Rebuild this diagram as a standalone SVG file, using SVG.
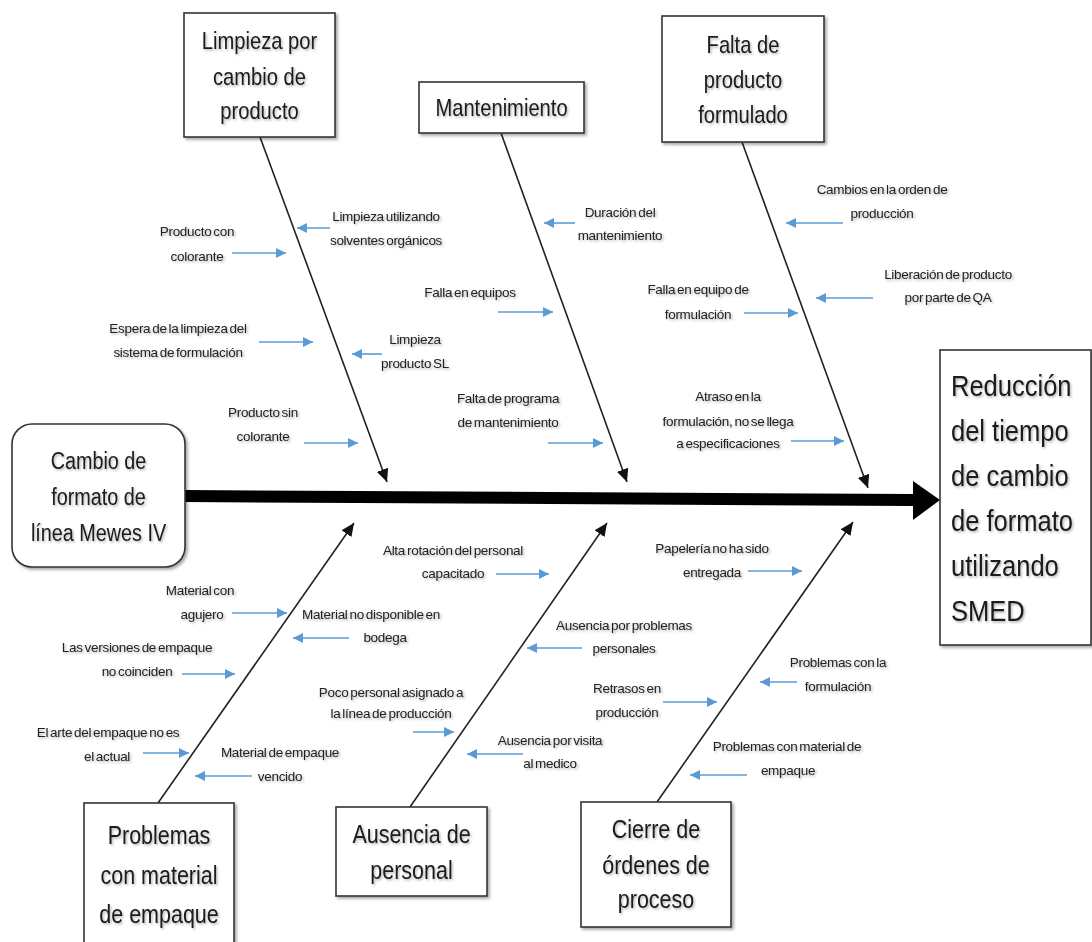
<svg xmlns="http://www.w3.org/2000/svg" width="1092" height="942" viewBox="0 0 1092 942">
  <defs>
    <filter id="shadow" x="-10%" y="-10%" width="130%" height="130%">
      <feDropShadow dx="2" dy="2" stdDeviation="1.5" flood-color="#000" flood-opacity="0.35"/>
    </filter>
    <filter id="tshadow" x="-5%" y="-20%" width="115%" height="150%">
      <feDropShadow dx="1.5" dy="1.5" stdDeviation="1.2" flood-color="#000" flood-opacity="0.3"/>
    </filter>
    <marker id="blk" markerUnits="userSpaceOnUse" markerWidth="14" markerHeight="12" refX="13" refY="6" orient="auto">
      <path d="M0,0 L13,6 L0,12 z" fill="#111"/>
    </marker>
    <marker id="blu" markerUnits="userSpaceOnUse" markerWidth="11" markerHeight="10" refX="10" refY="5" orient="auto">
      <path d="M0,0 L10,5 L0,10 z" fill="#5B9BD5"/>
    </marker>
  </defs>
  <style>
    .box { fill: #fff; stroke: #333; stroke-width: 1.6; filter: url(#shadow); }
    .title { font-family: "Liberation Sans", Arial, sans-serif; fill: #1a1a1a; text-anchor: middle; }
    .t24 { font-size: 24px; }
    .t23 { font-size: 23px; }
    .t25 { font-size: 25px; }
    .t29 { font-size: 29px; text-anchor: start; }
    .lbl { font-family: "Liberation Sans", Arial, sans-serif; font-size: 13.5px; fill: #222; text-anchor: middle; word-spacing: -1.5px; letter-spacing: -0.3px; }
    .txt { filter: url(#tshadow); }
    .bone { stroke: #222; stroke-width: 1.6; fill: none; marker-end: url(#blk); }
    .sub { stroke: #5B9BD5; stroke-width: 1.6; fill: none; marker-end: url(#blu); }
  </style>
  <rect width="1092" height="942" fill="#fff"/>

  <!-- connectors: spine, main bones and sub-cause arrows -->
  <g id="connectors">
    <path d="M185,496 L914,500" stroke="#000" stroke-width="12" fill="none"/>
    <polygon points="913,481 940,500 913,520" fill="#000"/>

    <line class="bone" x1="260" y1="137" x2="387" y2="482"/>
    <line class="bone" x1="501" y1="133" x2="627" y2="482"/>
    <line class="bone" x1="742" y1="142" x2="868" y2="488"/>
    <line class="bone" x1="158" y1="803" x2="354" y2="523"/>
    <line class="bone" x1="410" y1="807" x2="607" y2="523"/>
    <line class="bone" x1="657" y1="802" x2="853" y2="522"/>

    <line class="sub" x1="330" y1="228" x2="297" y2="228"/>
    <line class="sub" x1="232" y1="253" x2="286" y2="253"/>
    <line class="sub" x1="259" y1="342" x2="313" y2="342"/>
    <line class="sub" x1="382" y1="354" x2="352" y2="354"/>
    <line class="sub" x1="304" y1="443" x2="358" y2="443"/>
    <line class="sub" x1="575" y1="223" x2="544" y2="223"/>
    <line class="sub" x1="498" y1="312" x2="553" y2="312"/>
    <line class="sub" x1="548" y1="443" x2="603" y2="443"/>
    <line class="sub" x1="843" y1="223" x2="786" y2="223"/>
    <line class="sub" x1="873" y1="298" x2="816" y2="298"/>
    <line class="sub" x1="744" y1="313" x2="798" y2="313"/>
    <line class="sub" x1="791" y1="441" x2="844" y2="441"/>
    <line class="sub" x1="232" y1="613" x2="287" y2="613"/>
    <line class="sub" x1="349" y1="638" x2="293" y2="638"/>
    <line class="sub" x1="182" y1="674" x2="235" y2="674"/>
    <line class="sub" x1="143" y1="753" x2="189" y2="753"/>
    <line class="sub" x1="252" y1="776" x2="195" y2="776"/>
    <line class="sub" x1="496" y1="574" x2="549" y2="574"/>
    <line class="sub" x1="582" y1="648" x2="527" y2="648"/>
    <line class="sub" x1="413" y1="732" x2="454" y2="732"/>
    <line class="sub" x1="523" y1="754" x2="467" y2="754"/>
    <line class="sub" x1="748" y1="571" x2="802" y2="571"/>
    <line class="sub" x1="797" y1="682" x2="760" y2="682"/>
    <line class="sub" x1="663" y1="702" x2="717" y2="702"/>
    <line class="sub" x1="747" y1="775" x2="690" y2="775"/>
  </g>

  <!-- category boxes (titles narrowed horizontally around their own centre) -->
  <g id="limpieza">
    <rect class="box" x="184" y="13" width="151" height="124"/>
    <text class="title t24 txt" transform="translate(259.5,0) scale(0.84,1)"><tspan x="0" y="49">Limpieza por</tspan><tspan x="0" y="85">cambio de</tspan><tspan x="0" y="119">producto</tspan></text>
  </g>
  <g id="mantenimiento">
    <rect class="box" x="419" y="82" width="165" height="51"/>
    <text class="title t24 txt" transform="translate(501.5,0) scale(0.84,1)" x="0" y="116">Mantenimiento</text>
  </g>
  <g id="falta-producto">
    <rect class="box" x="662" y="16" width="162" height="126"/>
    <text class="title t24 txt" transform="translate(743,0) scale(0.84,1)"><tspan x="0" y="53">Falta de</tspan><tspan x="0" y="88">producto</tspan><tspan x="0" y="123">formulado</tspan></text>
  </g>
  <g id="cambio-formato">
    <rect class="box" x="12" y="424" width="173" height="143" rx="20" ry="20"/>
    <text class="title t23 txt" transform="translate(98.5,0) scale(0.86,1)"><tspan x="0" y="469">Cambio de</tspan><tspan x="0" y="505">formato de</tspan><tspan x="0" y="541">línea Mewes IV</tspan></text>
  </g>
  <g id="resultado">
    <rect class="box" x="940" y="350" width="151" height="295"/>
    <text class="title t29 txt" transform="translate(951,0) scale(0.88,1)"><tspan x="0" y="396">Reducción</tspan><tspan x="0" y="441">del tiempo</tspan><tspan x="0" y="486">de cambio</tspan><tspan x="0" y="531">de formato</tspan><tspan x="0" y="576">utilizando</tspan><tspan x="0" y="621">SMED</tspan></text>
  </g>
  <g id="material-empaque">
    <rect class="box" x="84" y="803" width="150" height="160"/>
    <text class="title t25 txt" transform="translate(159,0) scale(0.86,1)"><tspan x="0" y="844">Problemas</tspan><tspan x="0" y="884">con material</tspan><tspan x="0" y="923">de empaque</tspan></text>
  </g>
  <g id="ausencia-personal">
    <rect class="box" x="336" y="807" width="151" height="89"/>
    <text class="title t25 txt" transform="translate(411.5,0) scale(0.86,1)"><tspan x="0" y="843">Ausencia de</tspan><tspan x="0" y="879">personal</tspan></text>
  </g>
  <g id="cierre-ordenes">
    <rect class="box" x="581" y="802" width="150" height="125"/>
    <text class="title t25 txt" transform="translate(656,0) scale(0.86,1)"><tspan x="0" y="838">Cierre de</tspan><tspan x="0" y="874">órdenes de</tspan><tspan x="0" y="908">proceso</tspan></text>
  </g>

  <!-- sub-cause labels -->
  <g id="causas" class="lbl txt">
    <text><tspan x="386" y="221">Limpieza utilizando</tspan><tspan x="386" y="245">solventes orgánicos</tspan></text>
    <text><tspan x="197" y="236">Producto con</tspan><tspan x="197" y="261">colorante</tspan></text>
    <text><tspan x="178" y="333">Espera de la limpieza del</tspan><tspan x="178" y="357">sistema de formulación</tspan></text>
    <text><tspan x="415" y="344">Limpieza</tspan><tspan x="415" y="368">producto SL</tspan></text>
    <text><tspan x="263" y="417">Producto sin</tspan><tspan x="263" y="441">colorante</tspan></text>
    <text><tspan x="620" y="217">Duración del</tspan><tspan x="620" y="240">mantenimiento</tspan></text>
    <text x="470" y="297">Falla en equipos</text>
    <text><tspan x="508" y="403">Falta de programa</tspan><tspan x="508" y="427">de mantenimiento</tspan></text>
    <text><tspan x="882" y="194">Cambios en la orden de</tspan><tspan x="882" y="218">producción</tspan></text>
    <text><tspan x="948" y="279">Liberación de producto</tspan><tspan x="948" y="302">por parte de QA</tspan></text>
    <text><tspan x="698" y="294">Falla en equipo de</tspan><tspan x="698" y="319">formulación</tspan></text>
    <text><tspan x="728" y="401">Atraso en la</tspan><tspan x="728" y="426">formulación, no se llega</tspan><tspan x="728" y="448">a especificaciones</tspan></text>
    <text><tspan x="200" y="595">Material con</tspan><tspan x="202" y="619">agujero</tspan></text>
    <text><tspan x="371" y="619">Material no disponible en</tspan><tspan x="385" y="642">bodega</tspan></text>
    <text><tspan x="137" y="652">Las versiones de empaque</tspan><tspan x="137" y="676">no coinciden</tspan></text>
    <text><tspan x="108" y="737">El arte del empaque no es</tspan><tspan x="107" y="761">el actual</tspan></text>
    <text><tspan x="280" y="757">Material de empaque</tspan><tspan x="280" y="781">vencido</tspan></text>
    <text><tspan x="453" y="555">Alta rotación del personal</tspan><tspan x="453" y="578">capacitado</tspan></text>
    <text><tspan x="624" y="630">Ausencia por problemas</tspan><tspan x="624" y="653">personales</tspan></text>
    <text><tspan x="391" y="697">Poco personal asignado a</tspan><tspan x="391" y="718">la línea de producción</tspan></text>
    <text><tspan x="550" y="745">Ausencia por visita</tspan><tspan x="550" y="768">al medico</tspan></text>
    <text><tspan x="712" y="553">Papelería no ha sido</tspan><tspan x="712" y="577">entregada</tspan></text>
    <text><tspan x="838" y="667">Problemas con la</tspan><tspan x="838" y="691">formulación</tspan></text>
    <text><tspan x="627" y="693">Retrasos en</tspan><tspan x="627" y="717">producción</tspan></text>
    <text><tspan x="787" y="751">Problemas con material de</tspan><tspan x="788" y="775">empaque</tspan></text>
  </g>
</svg>
